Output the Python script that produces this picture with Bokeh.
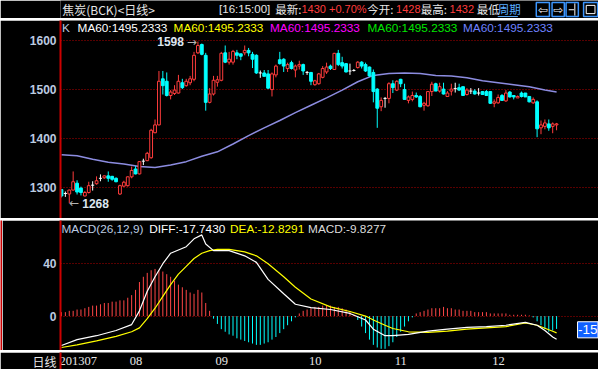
import numpy as np
from bokeh.plotting import figure
from bokeh.layouts import column, row
from bokeh.models import Range1d, FixedTicker
from bokeh.core.properties import value
from bokeh.embed import file_html
from bokeh.resources import INLINE

# ---------------- data ----------------
opens = [1296,1288,1287,1295,1309,1299,1283,1290,1305,1308,1319,1320,1324,1323,1319,1287,1303,1304,1322,1338,
         1328,1354,1355,1361,1412,1428,1522,1517,1488,1492,1493,1514,1508,1514,1521,1575,1592,1570,1474,1491,
         1515,1519,1575,1556,1556,1575,1573,1575,1580,1572,1570,1534,1534,1532,1500,1530,1561,1562,1543,1555,
         1540,1548,1551,1535,1535,1510,1512,1525,1536,1548,1541,1574,1555,1553,1538,1539,1545,1556,1551,1546,
         1535,1501,1465,1482,1482,1512,1499,1521,1500,1478,1480,1488,1486,1468,1467,1496,1512,1497,1501,1486,
         1497,1502,1504,1506,1490,1497,1497,1493,1496,1496,1496,1472,1473,1488,1477,1495,1488,1483,1493,1493,
         1486,1473,1475,1422,1425,1430,1425,1428]
highs = [1297,1292,1296,1333,1315,1302,1293,1312,1313,1323,1327,1325,1333,1324,1321,1306,1314,1323,1343,1344,
         1354,1359,1373,1420,1439,1538,1538,1535,1499,1509,1530,1522,1522,1528,1577,1598,1594,1575,1503,1528,
         1528,1577,1590,1577,1581,1581,1573,1590,1585,1577,1572,1539,1540,1540,1535,1551,1577,1564,1555,1559,
         1551,1559,1553,1538,1536,1520,1534,1548,1555,1551,1575,1581,1567,1554,1553,1542,1558,1558,1555,1547,
         1541,1503,1484,1485,1515,1519,1519,1522,1512,1488,1496,1494,1489,1475,1497,1516,1514,1514,1514,1497,
         1512,1514,1512,1506,1503,1503,1501,1503,1496,1499,1496,1480,1490,1491,1499,1497,1488,1488,1496,1493,
         1486,1484,1478,1437,1439,1439,1433,1432]
lows = [1280,1281,1268,1294,1286,1284,1282,1288,1294,1306,1313,1318,1312,1314,1311,1285,1301,1302,1319,1327,
        1327,1346,1354,1359,1411,1427,1490,1486,1480,1489,1492,1501,1506,1509,1517,1573,1570,1457,1472,1488,
        1506,1517,1554,1551,1551,1562,1560,1570,1568,1544,1532,1524,1532,1501,1486,1525,1551,1536,1536,1541,
        1525,1541,1530,1530,1509,1508,1510,1523,1532,1540,1540,1548,1543,1535,1530,1537,1543,1543,1536,1526,
        1474,1422,1456,1463,1472,1493,1497,1505,1480,1472,1476,1483,1464,1457,1465,1487,1497,1494,1490,1486,
        1488,1494,1497,1488,1488,1491,1490,1488,1489,1487,1471,1464,1471,1477,1475,1484,1480,1483,1484,1485,
        1474,1471,1403,1409,1419,1416,1411,1417]
closes = [1283,1288,1295,1312,1291,1290,1290,1304,1305,1314,1319,1324,1319,1317,1312,1304,1311,1322,1335,1328,
          1353,1354,1370,1417,1428,1517,1508,1488,1495,1499,1517,1504,1517,1522,1570,1590,1572,1474,1491,1519,
          1520,1574,1556,1562,1578,1570,1568,1580,1575,1562,1534,1534,1527,1503,1532,1548,1553,1548,1551,1543,
          1548,1551,1538,1535,1517,1518,1532,1543,1546,1543,1574,1551,1548,1536,1538,1539,1556,1548,1538,1528,
          1496,1462,1478,1482,1512,1504,1517,1512,1480,1485,1488,1485,1465,1472,1496,1511,1497,1506,1491,1493,
          1501,1502,1499,1488,1499,1497,1491,1493,1490,1488,1472,1475,1484,1478,1493,1485,1485,1486,1486,1485,
          1475,1480,1420,1428,1432,1422,1430,1430]

ma_idx = [0,4,8,12,16,20,24,28,32,36,40,44,48,52,56,60,64,68,72,76,80,84,88,92,96,100,104,108,112,116,120,124,127]
ma60 = [1367,1365,1358,1352,1348,1343,1341,1346,1353,1364,1373,1389,1406,1422,1437,1453,1468,1483,1499,1516,
        1529,1533,1534,1533,1529,1528,1524,1518,1514,1510,1506,1499,1495.2333]

diff_idx = [0,4,9,14,18,20,22,24,26,28,32,34,36,37,39,43,47,50,53,57,60,64,69,74,78,80,83,85,89,94,99,104,109,114,119,122,124,126,127]
diff_val = [-22.5,-18,-15,-11,-6.5,4,19,30,40,48,53,59,62,55,50,50,46,41,28,17,9,6.5,5,2,-3,-10,-15,-15,-14,-11.5,-10,-8.7,-8,-7,-4.8,-7,-11,-16,-17.743]
dea_idx = [0,4,9,14,18,20,22,24,26,28,30,32,34,36,38,40,43,47,50,53,57,60,64,69,74,78,80,83,85,89,94,99,104,109,114,119,122,124,126,127]
dea_val = [-24,-22,-19,-15.5,-12,-9,-2,6,15,24,32,38,44,48,50,51,51,49,46,40,30,22,13,7,3.5,0,-3,-7,-9.5,-12,-12.5,-11.5,-10,-9,-8,-5.3,-7,-9.3,-11.6,-12.8291]
macd_hist = [3,3,4,4,5,5,6,7,8,8,9,10,10,11,11,12,12,14,16,20,
             26,30,33,35,36,35,34,32,30,27,24,22,20,18,17,20,18,10,4,-2,
             -6,-10,-12,-14,-15,-17,-18,-19,-20,-21,-22,-22,-21,-20,-18,-16,-13,-10,-7,-4,
             -1,2,4,5,6,7,7,8,8,8,7,7,6,5,3,1,-3,-8,-13,-18,
             -22,-24,-25,-25,-23,-20,-16,-12,-8,-4,-1,2,3,4,5,6,6,6,7,6,
             6,5,5,4,4,4,3,3,3,3,2,2,2,2,2,1,1,1,1,1,
             0.5,-1,-4,-7,-10,-12,-11,-9.8277]

price_ticks = [1300, 1400, 1500, 1600]
macd_ticks = [0, 40]
month_labels = ["201307", "08", "09", "10", "11", "12"]
month_start = [0, 18, 40, 64, 86, 111]

# ---------------- styling ----------------
RED_LINE = "#cc0000"
GRID = "#b00000"
UP = "#ff3c3c"
DOWN = "#00ffff"
DOJI = "#ffffff"
AXIS_TXT = "#bccbe0"
W = 598
LEFT = 60
LAT = value("Liberation Sans")
CJK = value("Noto Sans CJK SC")


def kx(px):            # reference pixel -> candle index units
    return (px - 63) / 4.0


def price_y(py):       # reference pixel -> price
    return 1600 - (py - 41) / 0.515


def macd_y(py):        # reference pixel -> macd value
    return (331 - py) / 1.3825


def base_fig(**kw):
    f = figure(toolbar_location=None, output_backend="svg", title=None, **kw)
    f.background_fill_color = "black"
    f.border_fill_color = "black"
    f.outline_line_color = None
    return f


def red_bar(w, h):
    f = figure(width=w, height=h, toolbar_location=None, output_backend="svg", title=None,
               x_axis_location=None, y_axis_location=None, min_border=0,
               x_range=Range1d(0, 1), y_range=Range1d(0, 1))
    f.background_fill_color = RED_LINE
    f.border_fill_color = RED_LINE
    f.outline_line_color = None
    f.grid.visible = False
    return f


def style_yaxis(f, ticks):
    f.yaxis.ticker = FixedTicker(ticks=ticks)
    f.yaxis.axis_line_color = RED_LINE
    f.yaxis.axis_line_width = 2
    f.yaxis.major_tick_line_color = None
    f.yaxis.minor_tick_line_color = None
    f.yaxis.major_tick_in = 0
    f.yaxis.major_tick_out = 0
    f.yaxis.major_label_standoff = 4
    f.yaxis.major_label_text_color = AXIS_TXT
    f.yaxis.major_label_text_font = "Liberation Sans"
    f.yaxis.major_label_text_font_size = "12px"
    f.yaxis.major_label_text_font_style = "bold"
    f.ygrid.ticker = FixedTicker(ticks=ticks)
    f.ygrid.grid_line_color = GRID
    f.ygrid.grid_line_dash = "1 2"
    f.ygrid.grid_line_width = 1
    f.xgrid.visible = False


xr = Range1d(-0.25, 137.75)

# ---------------- header ----------------
hdr = base_fig(width=W, height=18, x_range=Range1d(0, 614), y_range=Range1d(18.5, 0),
               x_axis_location=None, y_axis_location=None, min_border=0)
hdr.grid.visible = False
hdr.text(x=[2], y=[9], text=["焦炭(BCK)<日线>"], text_color="#e6e6e6", text_font=CJK,
         text_font_size="12px", text_baseline="middle")
hdr.text(x=[181], y=[9], text=["[16:15:00]"], text_color="#e6e6e6", text_font=LAT,
         text_font_size="11.5px", text_baseline="middle")
hdr.text(x=[245, 350, 411, 475], y=[9] * 4, text=["最新:", "今开:", "最高:", "最低"],
         text_color="#e6e6e6", text_font=CJK, text_font_size="11.5px", text_baseline="middle")
hdr.text(x=[275, 383, 444], y=[9] * 3, text=["1430 +0.70%", "1428", "1432"],
         text_color="#ff3c3c", text_font=LAT, text_font_size="11px", text_baseline="middle")
hdr.text(x=[499], y=[9], text=["周期"], text_color="#5aaeff", text_font=CJK,
         text_font_size="11.5px", text_baseline="middle")
hdr.segment(x0=[499], y0=[16.5], x1=[522], y1=[16.5], line_color="#5aaeff", line_width=1)
hdr.quad(left=[543, 561, 577, 597], right=[558, 575, 591, 613], top=[2, 2, 2, 2], bottom=[16.5] * 4,
         fill_color=None, line_color="#3c96ff", line_width=1.5)
hdr.text(x=[550.5, 568], y=[9.5, 9.5], text=["⇦", "⇨"], text_color="#ffffff",
         text_font=value("DejaVu Sans"), text_font_size="12px", text_align="center", text_baseline="middle")
hdr.segment(x0=[587, 580], y0=[3, 9.5], x1=[587, 586], y1=[15.5, 9.5], line_color="#ffffff", line_width=1)
hdr.quad(left=[600], right=[610], top=[5], bottom=[13.5], fill_color=None, line_color="#ffffff", line_width=1)

# ---------------- price panel ----------------
p = base_fig(width=W, height=198, x_range=xr, y_range=Range1d(1237, 1641),
             min_border_left=LEFT, min_border_right=0, min_border_top=0, min_border_bottom=0,
             x_axis_location=None)
style_yaxis(p, price_ticks)

idx = np.arange(len(opens))
o = np.array(opens, float)
c = np.array(closes, float)
h = np.array(highs, float)
l = np.array(lows, float)
up = c > o
dn = c < o
dj = c == o

# moving average
p.line(ma_idx, ma60, line_color="#8c8ce0", line_width=1.5)

# wicks
for mask, col in ((up, UP), (dn, DOWN), (dj, DOJI)):
    p.segment(x0=idx[mask], y0=l[mask], x1=idx[mask], y1=h[mask], line_color=col, line_width=1)
# bodies
p.vbar(x=idx[up], bottom=o[up], top=c[up], width=0.72, fill_color="black", line_color=UP, line_width=1)
p.vbar(x=idx[dn], bottom=c[dn], top=o[dn], width=0.72, fill_color=DOWN, line_color=DOWN, line_width=1)
p.segment(x0=idx[dj] - 0.4, y0=o[dj], x1=idx[dj] + 0.4, y1=o[dj], line_color=DOJI, line_width=1)

# high / low annotation
hi_i = int(np.argmax(h))
lo_i = int(np.argmin(l))
p.text(x=[hi_i], y=[h[hi_i]], text=["→"], text_align="right", text_baseline="middle", x_offset=-1,
       text_color="#b4b4b4", text_font=value("DejaVu Sans"), text_font_size="12px")
p.text(x=[hi_i], y=[h[hi_i]], text=["%d" % h[hi_i]], text_align="right", text_baseline="middle",
       x_offset=-14, text_color="#dce6f0", text_font=LAT, text_font_size="12px",
       text_font_style="bold")
p.text(x=[lo_i], y=[l[lo_i]], text=["←"], text_align="left", text_baseline="middle", x_offset=0,
       text_color="#b4b4b4", text_font=value("DejaVu Sans"), text_font_size="12px")
p.text(x=[lo_i], y=[l[lo_i]], text=["%d" % l[lo_i]], text_align="left", text_baseline="middle",
       x_offset=13, text_color="#dce6f0", text_font=LAT, text_font_size="12px",
       text_font_style="bold")

# legend row
ma_txt = "MA60:%.4f" % ma60[-1]
lx = [kx(63.5), kx(79.5), kx(178), kx(277), kx(377), kx(475)]
ly = [price_y(28)] * 6
p.text(x=lx, y=ly, text=["K"] + [ma_txt] * 5,
       text_color=[AXIS_TXT, "#ffffff", "#ffff00", "#ff00ff", "#00e600", "#6e82ff"],
       text_font=LAT, text_font_size="11.8px", text_baseline="middle")

# ---------------- MACD panel ----------------
MH = 130
m = base_fig(width=W - 2, height=MH, x_range=xr, y_range=Range1d(-26.3, 73),
             min_border_left=LEFT - 2, min_border_right=0, min_border_top=0, min_border_bottom=0,
             x_axis_location=None)
style_yaxis(m, macd_ticks)
hist = np.array(macd_hist, float)
pos = hist >= 0
m.segment(x0=idx[pos], y0=0, x1=idx[pos], y1=hist[pos], line_color="#ff4646", line_width=1)
m.segment(x0=idx[~pos], y0=0, x1=idx[~pos], y1=hist[~pos], line_color=DOWN, line_width=1)
m.line(dea_idx, dea_val, line_color="#ffff00", line_width=1.2)
m.line(diff_idx, diff_val, line_color="#ffffff", line_width=1.2)
m.text(x=[kx(63), kx(153), kx(236), kx(316)], y=[macd_y(239.5)] * 4,
       text=["MACD(26,12,9)", "DIFF:%.4f" % diff_val[-1], "DEA:%.4f" % dea_val[-1], "MACD:%.4f" % macd_hist[-1]],
       text_color=[AXIS_TXT, "#ffffff", "#ffff00", "#dcdcdc"],
       text_font=LAT, text_font_size="11.8px", text_baseline="middle")
# value tag at right edge
m.quad(left=[kx(592.5)], right=[kx(613.5)], top=[macd_y(337)], bottom=[macd_y(354)],
       fill_color="#1060ff", line_color="#ffffff", line_width=1)
m.text(x=[kx(603)], y=[macd_y(345.5)], text=["-15"], text_color="#ffffff", text_align="center",
       text_baseline="middle", text_font=LAT, text_font_size="13.5px")

# ---------------- date axis ----------------
d = base_fig(width=W, height=17, x_range=xr, y_range=Range1d(0, 1),
             min_border_left=LEFT, min_border_right=0, min_border_top=0, min_border_bottom=0,
             x_axis_location=None)
d.grid.visible = False
d.yaxis.ticker = FixedTicker(ticks=[0.5])
d.yaxis.major_label_overrides = {0.5: "日线"}
d.yaxis.axis_line_color = RED_LINE
d.yaxis.axis_line_width = 2
d.yaxis.major_tick_line_color = None
d.yaxis.minor_tick_line_color = None
d.yaxis.major_tick_in = 0
d.yaxis.major_tick_out = 0
d.yaxis.major_label_standoff = 4
d.yaxis.major_label_text_color = "#e6e6e6"
d.yaxis.major_label_text_font = "Noto Sans CJK SC"
d.yaxis.major_label_text_font_size = "12px"
d.text(x=np.array(month_start) - 0.5, y=[0.5] * len(month_start), text=month_labels,
       text_color="#e6e6e6", text_font=value("Liberation Sans Narrow"), text_font_size="12.5px",
       text_baseline="middle", text_align="left")

layout = column(
    hdr,
    red_bar(W, 2),
    p,
    red_bar(W, 2),
    row(red_bar(2, MH), m),
    red_bar(W, 2),
    d,
)

open("out.html", "w").write(file_html(layout, INLINE))
